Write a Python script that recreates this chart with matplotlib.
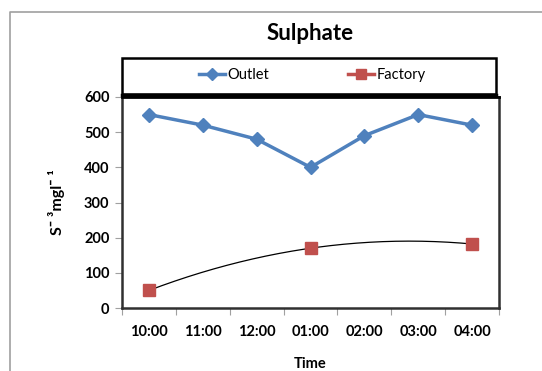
import numpy as np
import matplotlib.pyplot as plt
from matplotlib.patches import Rectangle
from matplotlib.lines import Line2D

plt.rcParams['font.family'] = ['Lato', 'DejaVu Sans']

# --- data ---
times = ["10:00", "11:00", "12:00", "01:00", "02:00", "03:00", "04:00"]
outlet = [550, 520, 480, 400, 490, 550, 520]
factory = [50, np.nan, np.nan, 170, np.nan, np.nan, 182]

x = np.arange(len(times))
factory = np.array(factory, dtype=float)

fig = plt.figure(figsize=(5.42, 3.71), dpi=100)
ax = fig.add_axes([122 / 542, 1 - 308 / 371, (499 - 122) / 542, (308 - 97) / 371])

blue = '#4F81BD'
red = '#C0504D'

ax.plot(x, outlet, color=blue, lw=2.5, marker='D', ms=7, label='Outlet', zorder=3)
ax.plot(x, factory, color=red, lw=0, marker='s', ms=9, zorder=4)

# second order trendline through factory points
ok = ~np.isnan(factory)
coef = np.polyfit(x[ok], factory[ok], 2)
xs = np.linspace(x[ok].min(), x[ok].max(), 200)
ax.plot(xs, np.polyval(coef, xs), color='black', lw=0.9, zorder=3.5)

ax.set_xlim(-0.5, len(times) - 0.5)
ax.set_ylim(0, 600)
ax.set_yticks(np.arange(0, 601, 100))
ax.set_xticks(x)
ax.set_xticklabels(times)
ax.set_xticks(np.arange(-0.5, len(times)), minor=True)
ax.tick_params(axis='x', which='major', length=0, pad=12, labelsize=10.5)
ax.tick_params(axis='x', which='minor', length=5, color='#a0a0a0', width=0.8)
ax.tick_params(axis='y', length=5, color='#a0a0a0', width=0.8, labelsize=10.5, pad=4)
for lab in ax.get_xticklabels() + ax.get_yticklabels():
    lab.set_fontweight('bold')

for side in ['left', 'bottom', 'right']:
    ax.spines[side].set_linewidth(1.8)
    ax.spines[side].set_color('#303030')
ax.spines['top'].set_linewidth(2)
ax.spines['top'].set_color('black')

ax.set_xlabel('Time', fontsize=10.5, fontweight='bold', labelpad=13)
ax.set_ylabel('S\u00af \u00b3mgl\u00af \u00b9', fontsize=11.5, fontweight='bold', labelpad=14)

fig.text(310 / 542, 1 - 33 / 371, 'Sulphate', ha='center', va='center',
         fontsize=16, fontweight='bold')

# legend box
fig.patches.append(Rectangle((122 / 542, 1 - 94 / 371), (496 - 122) / 542, (94 - 58) / 371,
                             transform=fig.transFigure, fill=False, edgecolor='black',
                             lw=1.8, zorder=5))
fig.lines.append(Line2D([122 / 542, 496 / 542], [1 - 94.5 / 371, 1 - 94.5 / 371],
                        transform=fig.transFigure, color='black', lw=2.5))
handles = [Line2D([], [], color=blue, lw=2.5, marker='D', ms=6),
           Line2D([], [], color=red, lw=2.5, marker='s', ms=7)]
fig.legend(handles, ['Outlet', 'Factory'], loc='center',
           bbox_to_anchor=(312 / 542, 1 - 75 / 371),
           ncol=2, frameon=False, fontsize=10.5, columnspacing=5.4, handlelength=1.8,
           handletextpad=0.15)

# outer chart border
fig.lines.append(Line2D([10 / 542, 10 / 542, 1], [0, 1 - 12 / 371, 1 - 12 / 371],
                        transform=fig.transFigure, color='#a0a0a0', lw=1.2))

fig.savefig('out.png', dpi=100)
